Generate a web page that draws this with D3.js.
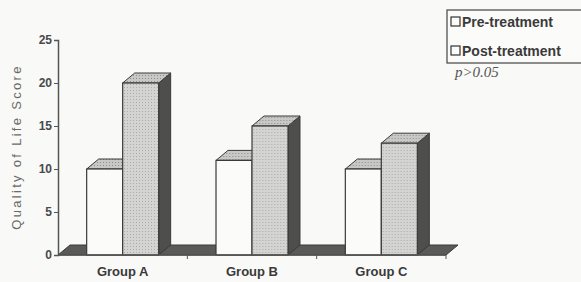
<!DOCTYPE html>
<html lang="en">
<head>
    <meta charset="UTF-8">
    <title>Quality of Life Score</title>
    <style>
        * { margin: 0; padding: 0; }
        html, body { overflow: hidden; background: #f9f9f7; }
    </style>
</head>
<body>
    <div id="chart"></div>
    <script src="https://cdn.jsdelivr.net/npm/d3@7"></script>
    <script>
        const categories = ['Group A', 'Group B', 'Group C']
        const series = ['Pre-treatment', 'Post-treatment']
        const preValues = [10, 11, 10]
        const postValues = [20, 15, 13]
        const yTicks = [0, 5, 10, 15, 20, 25]

        function drawChart() {
            const width = 581
            const height = 282
            const sans = '"Liberation Sans", Arial, sans-serif'
            const svg = d3.select('#chart')
                .append('svg')
                .attr('width', width)
                .attr('height', height)
                .style('background', '#f9f9f7')

            const left = 58, right = 446, top = 40, bottom = 255
            const dx = 12, dy = -10
            const ink = '#3a3a3a'

            const x = d3.scaleBand().domain(categories).range([left, right])
            const pairW = 72
            const xs = d3.scaleBand().domain(series)
                .range([x.bandwidth() / 2 - pairW / 2, x.bandwidth() / 2 + pairW / 2])
            const y = d3.scaleLinear().domain([0, 25]).range([bottom, top])

            // stipple patterns for the grey faces
            const defs = svg.append('defs')
            const dots = (id, bg, dot) => {
                const p = defs.append('pattern').attr('id', id)
                    .attr('width', 3).attr('height', 3).attr('patternUnits', 'userSpaceOnUse')
                p.append('rect').attr('width', 3).attr('height', 3).attr('fill', bg)
                p.append('rect').attr('width', 1).attr('height', 1).attr('fill', dot)
            }
            dots('frontDots', '#d4d4d2', '#acacaa')
            dots('topDots', '#c8c8c6', '#8e8e8c')

            // floor
            svg.append('path')
                .attr('d', `M${left},${bottom} L${right},${bottom} L${right + dx},${bottom + dy} L${left + dx},${bottom + dy} Z`)
                .attr('fill', '#5a5a58')
                .attr('stroke', ink)
                .attr('stroke-width', 1)

            const rows = categories.map((c, i) => ({ cat: c, vals: [preValues[i], postValues[i]] }))

            const groups = svg.selectAll('g.grp')
                .data(rows)
                .join('g')
                .attr('class', 'grp')
                .attr('transform', d => `translate(${x(d.cat)},0)`)

            groups.each(function (d) {
                const g = d3.select(this)
                series.forEach((s, j) => {
                    const v = d.vals[j]
                    const x0 = xs(s), x1 = xs(s) + xs.bandwidth()
                    const yt = y(v)
                    // side face
                    g.append('path')
                        .attr('d', `M${x1},${bottom} L${x1 + dx},${bottom + dy} L${x1 + dx},${yt + dy} L${x1},${yt} Z`)
                        .attr('fill', '#4e4e4c')
                        .attr('stroke', ink)
                    // top face
                    g.append('path')
                        .attr('d', `M${x0},${yt} L${x1},${yt} L${x1 + dx},${yt + dy} L${x0 + dx},${yt + dy} Z`)
                        .attr('fill', 'url(#topDots)')
                        .attr('stroke', ink)
                    // front face
                    g.append('rect')
                        .attr('x', x0)
                        .attr('y', yt)
                        .attr('width', xs.bandwidth())
                        .attr('height', bottom - yt)
                        .attr('fill', j === 0 ? '#fbfbf9' : 'url(#frontDots)')
                        .attr('stroke', ink)
                        .attr('stroke-width', 1.2)
                })
            })

            // y axis
            const yAxis = svg.append('g')
                .attr('transform', `translate(${left},0)`)
                .call(d3.axisLeft(y).tickValues(yTicks).tickSize(4).tickPadding(2))
            yAxis.select('.domain').attr('stroke', '#555').attr('stroke-width', 1.5)
            yAxis.selectAll('.tick line').attr('stroke', '#555')
            yAxis.selectAll('.tick text')
                .attr('fill', '#4a4a4a')
                .attr('font-size', 12)
                .attr('font-weight', 'bold')
                .attr('font-family', sans)

            // x axis
            const xAxis = svg.append('g')
                .attr('transform', `translate(0,${bottom})`)
            xAxis.append('line')
                .attr('x1', left).attr('x2', right)
                .attr('stroke', '#555').attr('stroke-width', 1.5)
            xAxis.selectAll('line.tk')
                .data(categories)
                .join('line')
                .attr('class', 'tk')
                .attr('x1', d => x(d) + x.bandwidth())
                .attr('x2', d => x(d) + x.bandwidth())
                .attr('y1', 0).attr('y2', 4)
                .attr('stroke', '#555')
            xAxis.selectAll('text')
                .data(categories)
                .join('text')
                .attr('x', d => x(d) + x.bandwidth() / 2)
                .attr('y', 21)
                .attr('text-anchor', 'middle')
                .attr('font-family', sans)
                .attr('font-size', 13)
                .attr('font-weight', 'bold')
                .attr('fill', '#3a3a3a')
                .text(d => d)

            // y title
            svg.append('text')
                .attr('transform', `translate(21,${147}) rotate(-90)`)
                .attr('text-anchor', 'middle')
                .attr('font-family', sans)
                .attr('font-size', 13)
                .attr('letter-spacing', 2.3)
                .attr('fill', '#6a6a6a')
                .text('Quality of Life Score')

            // legend
            const lg = svg.append('g').attr('transform', 'translate(447,10)')
            lg.append('rect')
                .attr('width', 140).attr('height', 53)
                .attr('fill', '#fbfbf9')
                .attr('stroke', '#444').attr('stroke-width', 1.2)
            series.forEach((s, i) => {
                const row = lg.append('g').attr('transform', `translate(4,${12 + i * 29})`)
                row.append('rect')
                    .attr('x', 0).attr('y', -5)
                    .attr('width', 9).attr('height', 9)
                    .attr('fill', '#fbfbf9')
                    .attr('stroke', '#333')
                    .attr('stroke-width', 1.2)
                row.append('text')
                    .attr('x', 11).attr('y', 4.5)
                    .attr('font-family', sans)
                    .attr('font-size', 14)
                    .attr('font-weight', 'bold')
                    .attr('fill', '#3a3a3a')
                    .text(s)
            })

            // p-value note
            svg.append('text')
                .attr('x', 455).attr('y', 77)
                .attr('font-family', '"Liberation Serif", "Times New Roman", serif')
                .attr('font-style', 'italic')
                .attr('font-size', 15)
                .attr('fill', '#555')
                .text('p>0.05')
        }

        drawChart()
    </script>
</body>
</html>
